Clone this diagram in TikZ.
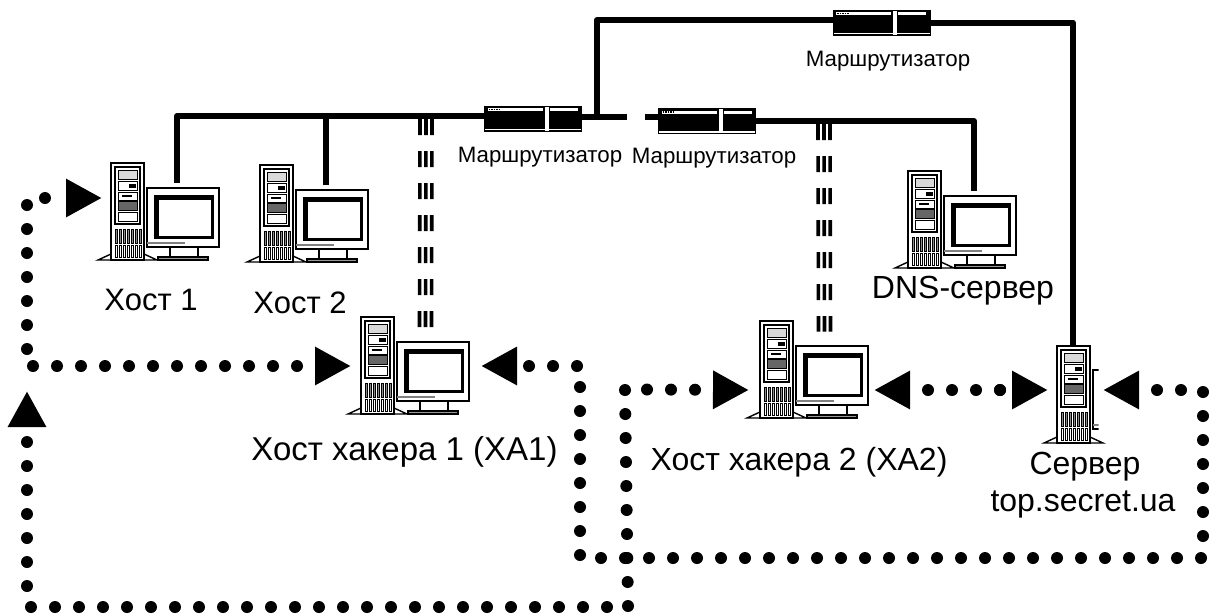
\documentclass[tikz,border=0pt]{standalone}
\usepackage{fontspec}
\setmainfont{Liberation Sans}
\usetikzlibrary{arrows.meta}
\tikzset{
    pics/towerpic/.style={code={
        \coordinate (-roof) at (16,0);
        \draw[line width=1.4pt, fill=white] (-13,97) -- (0,91) -- (33,91) -- (46,97) -- cycle;
        \draw[line width=1.7pt, fill=white] (0,0) rectangle (33,97);
        \draw[line width=2pt] (4,4) rectangle (29,61);
        \draw[line width=.8pt, fill=black!15] (7,7) rectangle (26,16);
        \draw[line width=.8pt] (7,18) rectangle (26,27);
        \fill (18,21) rectangle (25,25);
        \draw[line width=.8pt] (7,29) rectangle (26,37);
        \fill (11,32) rectangle (21,33.5);
        \draw[line width=.8pt, fill=black!60] (7,38) rectangle (26,47);
        \draw[line width=.8pt] (7,49) rectangle (26,58);
        \foreach \vx in {4,8,...,28} {
            \draw[line width=.8pt, fill=black!45] (\vx,66) rectangle ++(2.6,14);
            \draw[line width=.8pt] (\vx,82) rectangle ++(2.6,12);
        }
    }},
    pics/monitorpic/.style={code={
        \draw[line width=1.3pt, fill=white] (59,84) rectangle (87,94);
        \draw[line width=1.3pt, fill=black!40] (47,94) rectangle (97,97);
        \draw[line width=1.5pt, fill=white] (36,25) rectangle (108,84);
        \fill[black!50] (36,79) rectangle (74,81);
        \fill (43,32) rectangle (103,76);
        \fill[white] (48,37) rectangle (100,73);
    }},
    pics/hostpic/.style={code={
        \coordinate (-top) at (66,20);
        \coordinate (-radio) at (64.5,10.5);
        \pic {towerpic};
        \pic {monitorpic};
    }}
}
\begin{document}
\begin{tikzpicture}
    [x=1pt, y=-1pt,
    cable/.style={draw=black, line width=6pt, line join=round},
    radioLink/.style={draw=black, line width=3.6pt, dash pattern=on 16pt off 16pt},
    dotLink/.style={draw=black, line width=12pt, line cap=round, dash pattern=on 0pt off 24pt},
    headLink/.style={dotLink, -{Triangle[length=36pt, width=36pt]}},
    routerBox/.style={draw=black, fill=black, line width=1pt, inner sep=0pt,
        minimum width=97pt, minimum height=25pt,
        path picture={
            \fill[white] ([xshift=3pt, yshift=-2pt]path picture bounding box.north west) rectangle ++(55,3);
            \fill[white] ([xshift=65pt, yshift=-2pt]path picture bounding box.north west) rectangle ++(28,3);
            \fill[white] ([xshift=60pt]path picture bounding box.north west) rectangle ++(4,25);
            \fill[white] ([yshift=2.5pt]path picture bounding box.south west) rectangle ++(97,1.5);
            \draw[black, line width=1.5pt, dash pattern=on 1.5pt off 1pt] ([xshift=4pt, yshift=-3.5pt]path picture bounding box.north west) -- ++(12,0);
        }},
    bigText/.style={anchor=base, inner sep=0pt, font=\fontsize{32}{36}\selectfont},
    smallText/.style={anchor=base, inner sep=0pt, font=\fontsize{22.3}{26}\selectfont}]
    \useasboundingbox (0,0) rectangle (1211,614);

    \pic (host1) at (111,163) {hostpic};
    \pic (host2) at (260,165) {hostpic};
    \pic (hacker1) at (361,317) {hostpic};
    \pic (hacker2) at (760,321) {hostpic};
    \pic (dnsServer) at (908,171) {hostpic};
    \pic (topServer) at (1057,346) {towerpic};
    \begin{scope}
        \clip (1040,340) rectangle (1098.5,450);
        \pic at (1057,345) {monitorpic};
    \end{scope}

    \node [routerBox] (router1) at (533,118.5) {};
    \node [routerBox] (router2) at (707,121) {};
    \node [routerBox] (router3) at (881.5,22.5) {};

    \coordinate (busLeft) at (177,116);
    \coordinate (busTap) at (326,116);
    \coordinate (stubRight) at (627,117);
    \coordinate (stubLeft) at (645,117);
    \coordinate (branchFoot) at (597,117);
    \coordinate (branchTop) at (597,20);
    \coordinate (radioTop1) at (426,119);
    \coordinate (radioTop2) at (824,124);

    \draw [cable] (host1-top) -- (busLeft) -- (router1.west |- busLeft);
    \draw [cable] (host2-top) -- (busTap);
    \draw [cable] (router1.east |- stubRight) -- (stubRight);
    \draw [cable] (branchFoot) -- (branchTop) -- (router3.west |- branchTop);
    \draw [cable] (router3.east) -| (topServer-roof);
    \draw [cable] (stubLeft) -- (router2.west |- stubLeft);
    \draw [cable] (router2.east) -| (dnsServer-top);

    \foreach \dx in {-6,0,6} {
        \draw [radioLink] ([xshift=\dx pt]radioTop1) -- ([xshift=\dx pt]hacker1-radio);
        \draw [radioLink] ([xshift=\dx pt]radioTop2) -- ([xshift=\dx pt]hacker2-radio);
    }

    % dotted routes
    \coordinate (tipHost1) at (102,198);
    \coordinate (tipHacker1L) at (351,366);
    \coordinate (tipHacker1R) at (481,366);
    \coordinate (tipHacker2L) at (749,390);
    \coordinate (tipHacker2R) at (874,390);
    \coordinate (tipServerL) at (1048,390);
    \coordinate (tipServerR) at (1103,390);
    \coordinate (tipUp) at (27,391);
    \coordinate (midDots) at (1000,390);

    \draw [headLink] (33,366) coordinate (a1) -- (tipHacker1L);
    \draw [dotLink] (27,349) coordinate (a2) -- (27,203) coordinate (a3);
    \draw [headLink] (45,198) coordinate (a4) -- (tipHost1);
    \draw [headLink] (27,586) coordinate (b1) -- (tipUp);
    \draw [dotLink] (31,607) coordinate (b2) -- (607,607) coordinate (b3);
    \draw [dotLink] (628,606) coordinate (b4) -- (625,390) coordinate (b5);
    \draw [headLink] (647,389.5) coordinate (b6) -- (tipHacker2L);
    \draw [headLink] (577,366) coordinate (c1) -- (tipHacker1R);
    \draw [dotLink] (580,387) coordinate (c2) -- (580,556) coordinate (c3);
    \draw [dotLink] (601,558) coordinate (c4) -- (1201,558) coordinate (c5);
    \draw [dotLink] (1203,536) coordinate (c6) -- (1203,392) coordinate (c7);
    \draw [headLink] (1181,390) coordinate (c8) -- (tipServerR);
    \draw [headLink] (midDots) -- (tipHacker2R);
    \draw [headLink] (midDots) -- (tipServerL);

    \node [bigText, font=\fontsize{31}{36}\selectfont] (host1Text) at (151,310) {Хост 1};
    \node [bigText, font=\fontsize{31}{36}\selectfont] (host2Text) at (300,313) {Хост 2};
    \node [bigText, font=\fontsize{33}{36}\selectfont] (hacker1Text) at (404.5,460) {Хост хакера 1 (ХА1)};
    \node [bigText] (hacker2Text) at (799,470) {Хост хакера 2 (ХА2)};
    \node [bigText] (dnsText) at (963,298) {DNS-сервер};
    \node [bigText] (serverText1) at (1085,474) {Сервер};
    \node [bigText] (serverText2) at (1083,511) {top.secret.ua};
    \node [smallText] (router1Text) at (540,162) {Маршрутизатор};
    \node [smallText] (router2Text) at (714,163) {Маршрутизатор};
    \node [smallText] (router3Text) at (888,66) {Маршрутизатор};
\end{tikzpicture}
\end{document}
